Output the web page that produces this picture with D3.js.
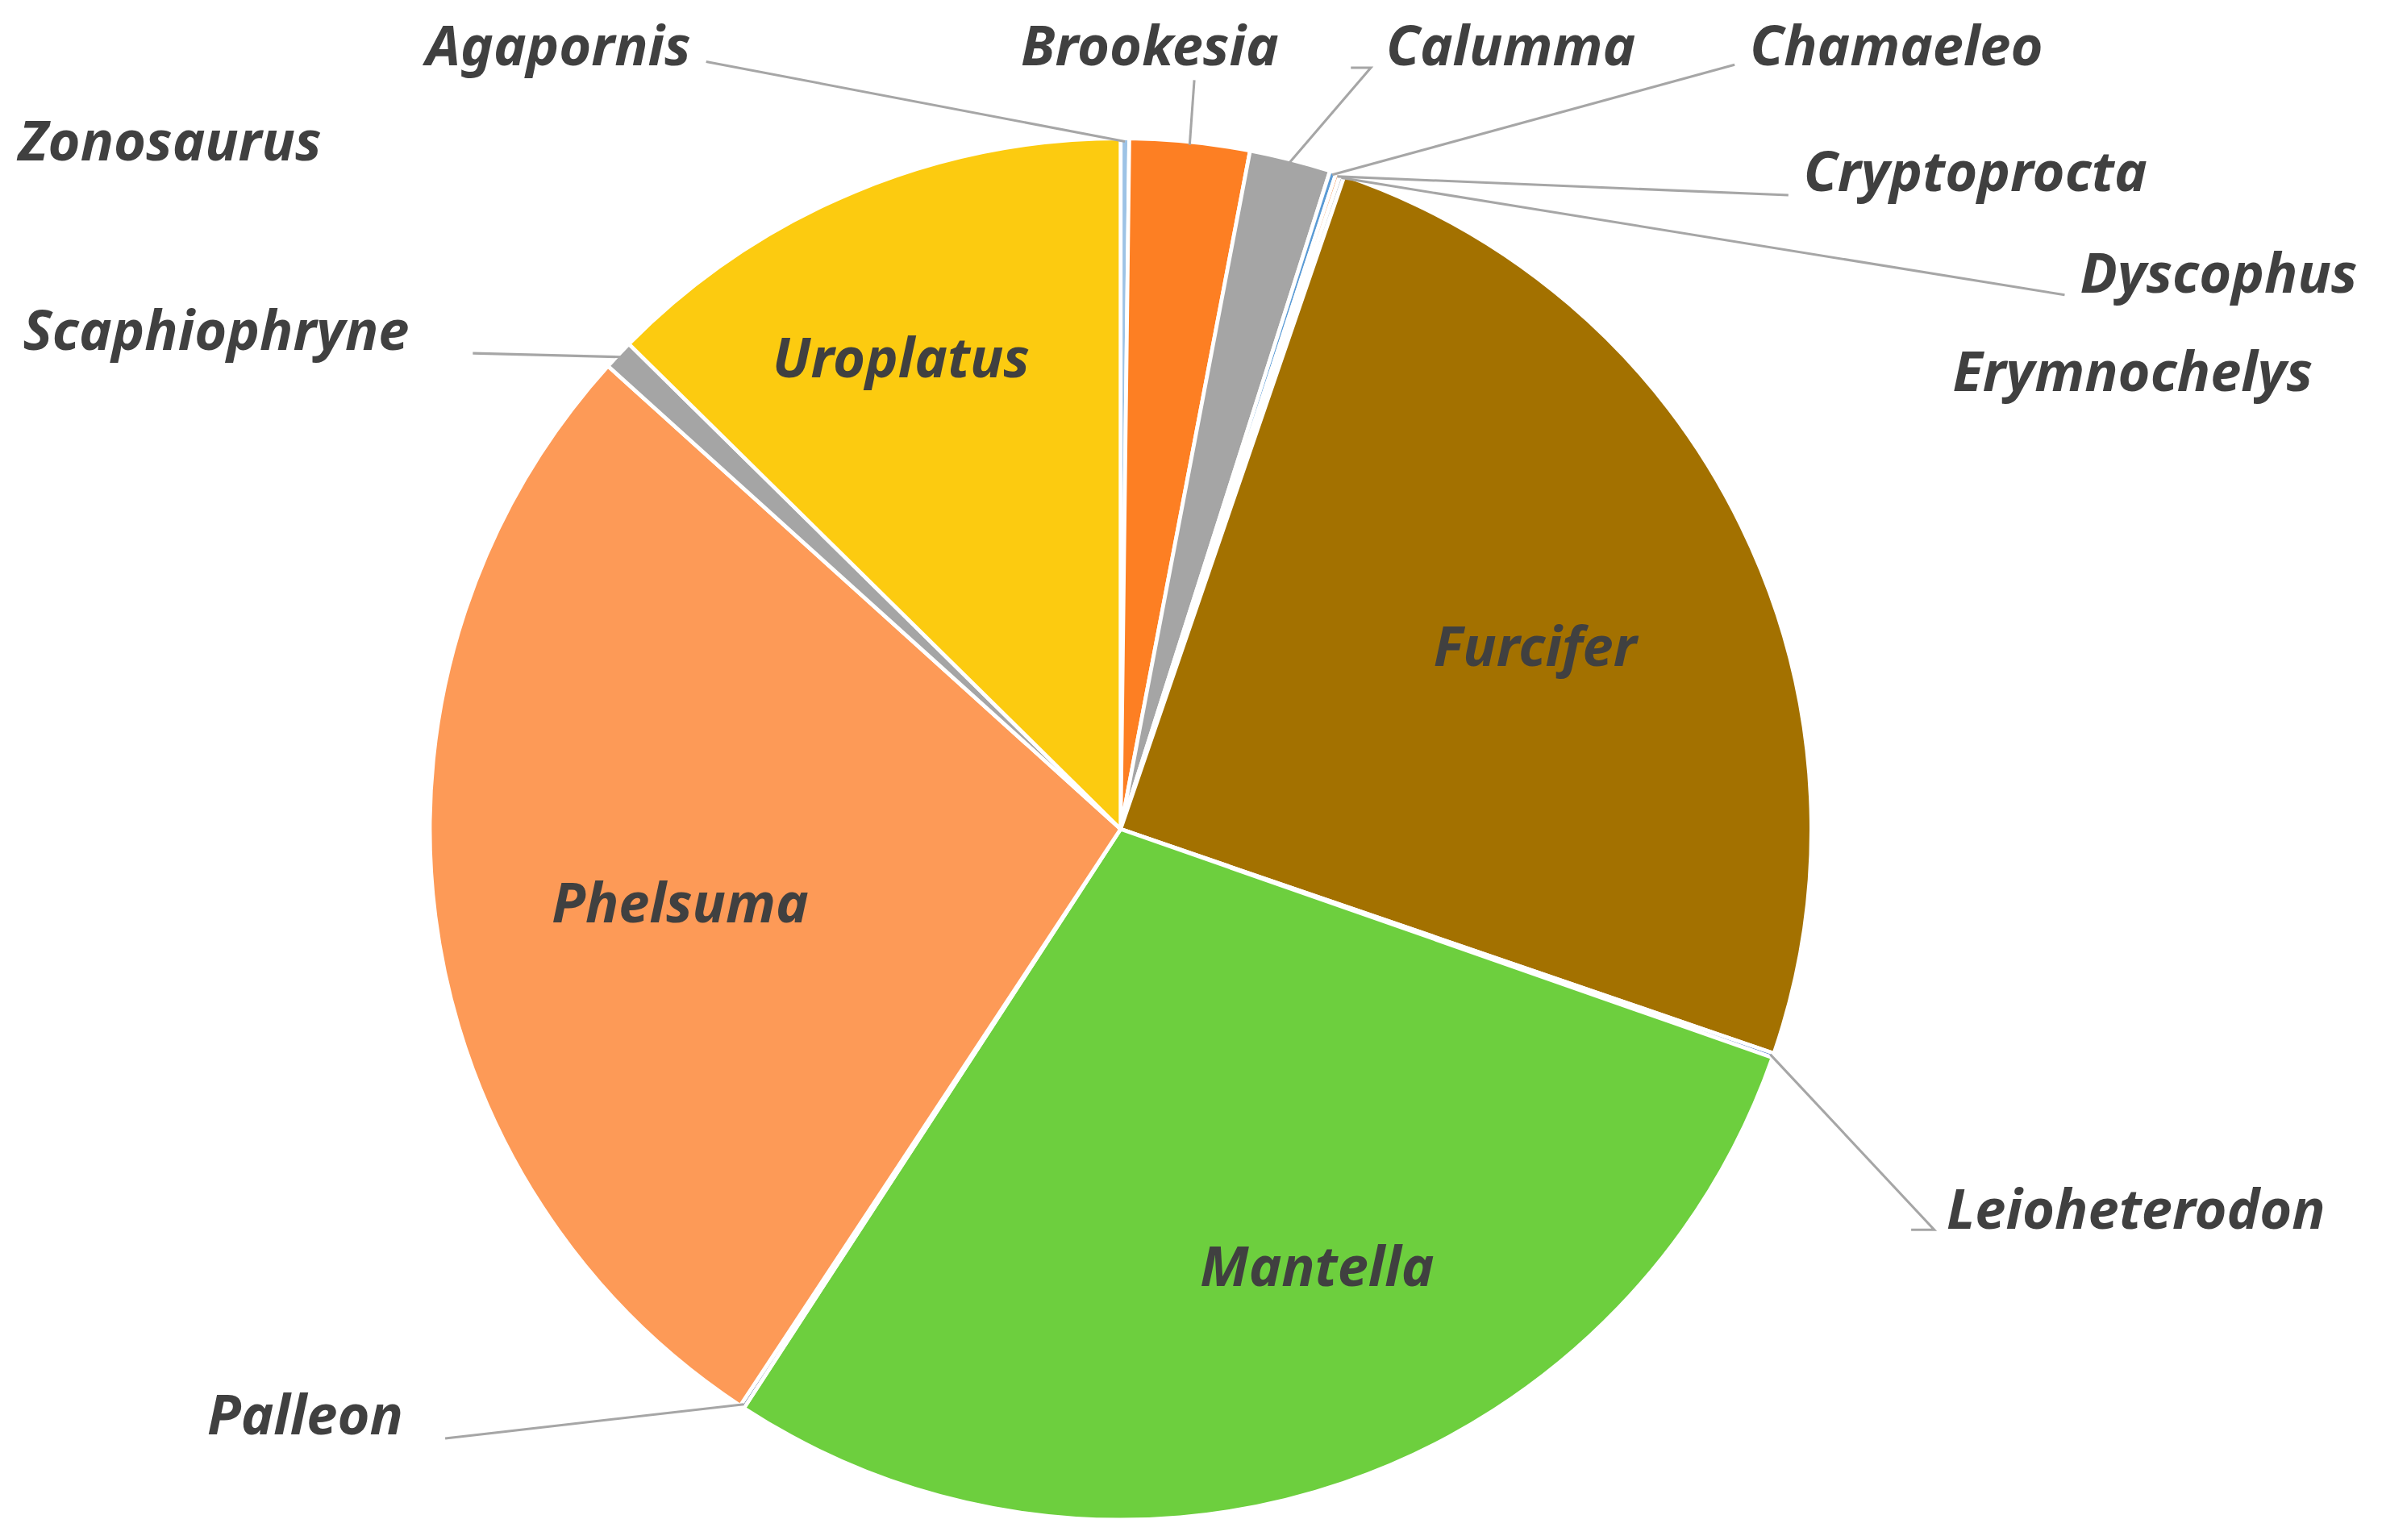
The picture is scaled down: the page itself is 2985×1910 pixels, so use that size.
<!DOCTYPE html>
<html><head><meta charset="utf-8">
<script src="https://cdnjs.cloudflare.com/ajax/libs/d3/7.8.5/d3.min.js"></script>
<style>body{margin:0;background:#fff}</style>
</head><body>
<svg id="chart" width="2985" height="1910" viewBox="0 0 1568 1003"></svg>
<script>
var genera = ["Agapornis","Brookesia","Calumma","Chamaeleo","Cryptoprocta","Dyscophus","Erymnochelys","Furcifer","Leioheterodon","Mantella","Palleon","Phelsuma","Scaphiophryne","Uroplatus","Zonosaurus"];
var shares = [0.2, 2.8, 1.9, 0.15, 0.1, 0.1, 0, 25, 0.1, 28.8, 0.1, 27.4, 0.7, 12.6, 0];
var colours = ["#9DC3E6","#FD7F23","#A5A5A5","#5B9BD5","#ED7D31","#A5A5A5","#FFC000","#A37100","#4472C4","#6DCF3E","#264478","#FD9A57","#A5A5A5","#FCCB10","#9E480E"];

// label layout (chart units): inside labels get a point, outside labels a text spot and leader bend
var labelLayout = {
  Zonosaurus:   {x:12,   y:92,  anchor:"start"},
  Agapornis:    {x:450,  y:30,  anchor:"end",   line:[[460,40]]},
  Brookesia:    {x:665,  y:30,  anchor:"start", line:[[778,52]]},
  Calumma:      {x:903,  y:30,  anchor:"start", line:[[893,44],[880,44]]},
  Chamaeleo:    {x:1140, y:30,  anchor:"start", line:[[1130,42]]},
  Cryptoprocta: {x:1175, y:112, anchor:"start", line:[[1165,127]]},
  Dyscophus:    {x:1355, y:178, anchor:"start", line:[[1345,192]]},
  Erymnochelys: {x:1272, y:242, anchor:"start"},
  Leioheterodon:{x:1268, y:788, anchor:"start", line:[[1260,801],[1245,801]]},
  Palleon:      {x:135,  y:922, anchor:"start", line:[[290,937]]},
  Scaphiophryne:{x:15,   y:215, anchor:"start", line:[[308,230]]},
  Uroplatus:    {x:587,  y:233, anchor:"middle", inside:true},
  Furcifer:     {x:1000, y:421, anchor:"middle", inside:true},
  Phelsuma:     {x:443,  y:588, anchor:"middle", inside:true},
  Mantella:     {x:858,  y:825, anchor:"middle", inside:true}
};

var cx = 730, cy = 540, R = 450;
var svg = d3.select("#chart");
var g = svg.append("g").attr("transform","translate("+cx+","+cy+")");

var data = genera.map(function(n,i){return {name:n, value:shares[i], colour:colours[i]};});
var pie = d3.pie().sort(null).value(function(d){return d.value;});
var arcs = pie(data);
var arc = d3.arc().innerRadius(0).outerRadius(R);
var rim = d3.arc().innerRadius(R-2).outerRadius(R-2);

g.selectAll("path.slice").data(arcs.filter(function(a){return a.data.value>0;}))
  .enter().append("path").attr("class","slice")
  .attr("d",arc).attr("fill",function(a){return a.data.colour;})
  .attr("stroke","#fff").attr("stroke-width",2.5).attr("stroke-linejoin","round");

// leader lines
arcs.forEach(function(a){
  var L = labelLayout[a.data.name];
  if (!L || !L.line) return;
  var c = rim.centroid(a);
  var pts = [[c[0]+cx, c[1]+cy]].concat(L.line);
  svg.append("path")
    .attr("d", d3.line()(pts.reverse()))
    .attr("fill","none").attr("stroke","#A6A6A6").attr("stroke-width",1.6);
});

svg.selectAll("text.lbl").data(genera).enter().append("text")
  .attr("class","lbl")
  .attr("x",function(n){return labelLayout[n].x;})
  .attr("y",function(n){return labelLayout[n].y;})
  .attr("dy","0.35em")
  .attr("text-anchor",function(n){return labelLayout[n].anchor;})
  .attr("font-family","'Noto Sans', 'Open Sans', sans-serif")
  .attr("font-style","italic").attr("font-weight","bold")
  .attr("font-size",36).attr("fill","#404040")
  .text(function(n){return n;});
</script>
</body></html>
